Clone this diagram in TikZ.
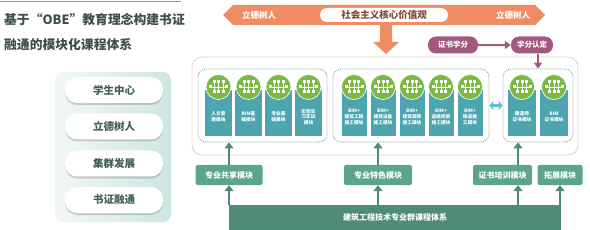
\documentclass[tikz,border=0pt]{standalone}
\usepackage{fontspec}
\setmainfont{Noto Sans CJK SC}
\usetikzlibrary{arrows.meta,shadows}
\definecolor{titlegray}{HTML}{3E504A}
\definecolor{topline}{HTML}{7E9C96}
\definecolor{panelL}{HTML}{F2F8F7}
\definecolor{panelR}{HTML}{CDE6E2}
\definecolor{pilltext}{HTML}{3F5E53}
\definecolor{bannerorange}{HTML}{EF8C64}
\definecolor{bannertext}{HTML}{7D4A3A}
\definecolor{certpurple}{HTML}{A4587F}
\definecolor{dotorange}{HTML}{F2A57E}
\definecolor{dotgray}{HTML}{7FA79E}
\definecolor{cardteal}{HTML}{4CA5AF}
\definecolor{icongreen}{HTML}{7CB843}
\definecolor{linkteal}{HTML}{5EC2D0}
\definecolor{boxgreen}{HTML}{5BA58E}
\definecolor{arrgreen}{HTML}{4C8C77}
\definecolor{bargreen}{HTML}{4F8B77}
\tikzset{
  pill/.style={fill=white, rounded corners=12pt, minimum width=98pt, minimum height=26pt,
    inner sep=0pt, text=pilltext, font=\bfseries\fontsize{10.5}{12}\selectfont,
    drop shadow={shadow xshift=0pt, shadow yshift=-2pt, opacity=.35, fill=gray}},
  certpill/.style={fill=certpurple, rounded corners=8pt, minimum height=17pt, inner sep=0pt,
    text=white, font=\bfseries\fontsize{7.5}{9}\selectfont},
  outerbox/.style={draw=dotorange, line width=0.9pt, dash pattern=on 1pt off 1pt,
    rounded corners=10pt, minimum height=98pt, inner sep=0pt},
  grpbox/.style={draw=dotgray, line width=0.8pt, dash pattern=on 1pt off 1pt,
    rounded corners=8pt, minimum height=73pt, inner sep=0pt},
  card/.style={fill=cardteal, minimum height=46pt, inner sep=0pt},
  cardtxt/.style={text=white, align=center, inner sep=0pt,
    font=\bfseries\fontsize{4.7}{5.8}\selectfont},
  greenbox/.style={fill=boxgreen, rounded corners=2pt, minimum height=20pt, inner sep=0pt,
    text=white, font=\bfseries\fontsize{8}{9}\selectfont},
  uparr/.style={draw=arrgreen, line width=2pt, -{Triangle[length=6pt,width=9pt]}},
  netico/.pic={
    \draw[white, line width=0.8pt] (-7.5,0) -- (7.5,0)
      (-4.5,-5) -- (-4.5,5) (0,-5) -- (0,5) (4.5,-5) -- (4.5,5);
    \foreach \px/\py in {-4.5/-5,0/-5,4.5/-5,-4.5/5,0/5,4.5/5,-8/0,8/0}
      \fill[white] (\px-1.5,\py-1.5) rectangle (\px+1.5,\py+1.5);
  }
}
\begin{document}
\begin{tikzpicture}[x=1pt,y=-1pt]
\useasboundingbox (0,0) rectangle (590,230);

% title
\draw[topline, line width=1.5pt] (0,1.5) -- (181,1.5);
\node[anchor=west, inner sep=0pt, text=titlegray, font=\bfseries\fontsize{12.8}{14}\selectfont] (title1) at (4,20) {基于“OBE”教育理念构建书证};
\node[anchor=west, inner sep=0pt, text=titlegray, font=\bfseries\fontsize{12.8}{14}\selectfont] (title2) at (4,45) {融通的模块化课程体系};

% left panel
\shade[left color=panelL, right color=panelR, rounded corners=8pt] (55,72) rectangle (171,222);
\foreach \yy/\txt/\nm in {90/学生中心/p1, 126.5/立德树人/p2, 163.5/集群发展/p3, 200/书证融通/p4}
  \node[pill] (\nm) at (114,\yy) {\txt};

% banner
\fill[bannerorange] (223,15) -- (233,5) -- (535,5) -- (545,15) -- (535,25) -- (233,25) -- cycle;
\node[text=white, font=\bfseries\fontsize{8.5}{9}\selectfont] (lde1) at (259,15) {立德树人};
\node[text=white, font=\bfseries\fontsize{8.5}{9}\selectfont] (lde2) at (513,15) {立德树人};
\node[fill=white, rounded corners=7pt, minimum width=128pt, minimum height=14pt, inner sep=0pt,
  text=bannertext, font=\bfseries\fontsize{9.5}{11}\selectfont] (core) at (384,15) {社会主义核心价值观};
\fill[bannerorange] (380,25) -- (392,25) -- (392,42) -- (399,42) -- (386,54) -- (373,42) -- (380,42) -- cycle;

% certificate credits
\node[certpill, minimum width=50pt] (cred) at (453,45) {证书学分};
\node[certpill, minimum width=42pt] (recog) at (532,45) {学分认定};
\draw[certpurple, line width=1.5pt, -{Triangle[length=6pt,width=8pt]}] (cred.east) -- (recog.west);

% module boxes
\node[outerbox, minimum width=386pt] (outer) at (385,106) {};
\node[grpbox, minimum width=129pt] (g1) at (262.5,105.5) {};
\node[grpbox, minimum width=156pt] (g2) at (411,105.5) {};
\node[grpbox, minimum width=70pt] (g3) at (538,105.5) {};
\draw[certpurple, line width=1.5pt, -{Triangle[length=6pt,width=8pt]}] (g3.north |- recog.south) -- (g3.north);
\draw[linkteal, line width=3.5pt, {Triangle[length=4pt,width=9pt]}-{Triangle[length=4pt,width=9pt]}] (g2.east) -- (g3.west);

% cards
\foreach \i/\cx/\ww/\txt in {1/218.5/27/{人文素\\质模块}, 2/248.5/27/{BIM基\\础模块},
    3/278.5/27/{专业基\\础模块}, 4/308.5/27/{实验实\\习实训\\模块},
    5/354/25/{BIM+\\建筑工程\\施工模块}, 6/383/25/{BIM+\\建筑设备\\施工模块},
    7/412/25/{BIM+\\建筑装饰\\施工模块}, 8/441/25/{BIM+\\道路桥梁\\施工模块},
    9/470/25/{BIM+\\铁道施\\工模块}, 10/522/28/{建造师\\证书模块}, 11/554/28/{BIM\\证书模块}}
{
  \node[card, minimum width=\ww pt] (c\i) at (\cx,113) {};
  \fill[icongreen, draw=white, line width=0.6pt] (\cx,87) circle (12.5);
  \pic at (\cx,87) {netico};
  \node[cardtxt] (t\i) at (\cx,117) {\txt};
}

% course modules
\node[greenbox, minimum width=67pt] (share) at (229,175) {专业共享模块};
\node[greenbox, minimum width=68pt] (feat) at (378,175) {专业特色模块};
\node[greenbox, minimum width=59pt] (train) at (502.5,175) {证书培训模块};
\node[greenbox, minimum width=45pt] (ext) at (560,175) {拓展模块};
\coordinate (tx) at (518,175);
\draw[uparr] (share.north) -- (share.north |- g1.south);
\draw[uparr] (feat.north) -- (feat.north |- g2.south);
\draw[uparr] (tx |- train.north) -- (tx |- g3.south);

% course system bar
\node[fill=bargreen, minimum width=332pt, minimum height=25pt, inner sep=0pt,
  text=white, font=\bfseries\fontsize{8}{9}\selectfont] (sys) at (395,217.5) {建筑工程技术专业群课程体系};
\draw[uparr] (share.south |- sys.north) -- (share.south);
\draw[uparr] (feat.south |- sys.north) -- (feat.south);
\draw[uparr] (tx |- sys.north) -- (tx |- train.south);
\draw[uparr] (ext.south |- sys.north) -- (ext.south);
\end{tikzpicture}
\end{document}
